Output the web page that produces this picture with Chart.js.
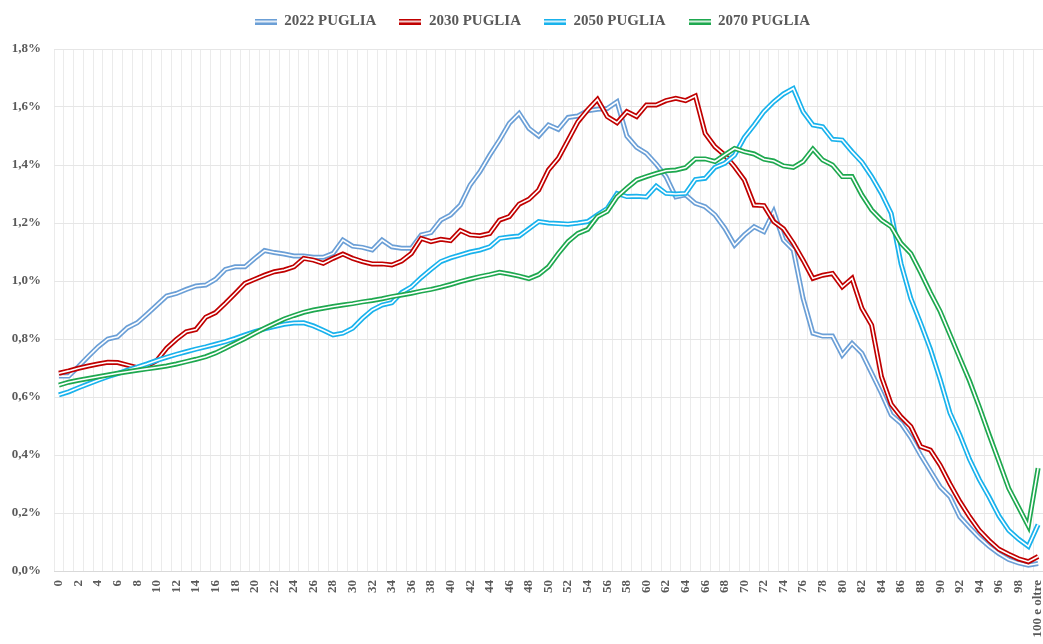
<!DOCTYPE html>
<html><head><meta charset="utf-8">
<script src="https://cdn.jsdelivr.net/npm/chart.js@4/dist/chart.umd.min.js"></script>
<style>html,body{margin:0;padding:0;background:#fff;}#wrap{width:1043px;height:644px;}</style>
</head><body><div id="wrap"><canvas id="c" width="1043" height="644"></canvas></div>
<script>
const categories = ['0','1','2','3','4','5','6','7','8','9','10','11','12','13','14','15','16','17','18','19','20','21','22','23','24','25','26','27','28','29','30','31','32','33','34','35','36','37','38','39','40','41','42','43','44','45','46','47','48','49','50','51','52','53','54','55','56','57','58','59','60','61','62','63','64','65','66','67','68','69','70','71','72','73','74','75','76','77','78','79','80','81','82','83','84','85','86','87','88','89','90','91','92','93','94','95','96','97','98','99','100 e oltre'];
const seriesNames = ['2022 PUGLIA','2030 PUGLIA','2050 PUGLIA','2070 PUGLIA'];
const yTickValues = [0,0.2,0.4,0.6,0.8,1.0,1.2,1.4,1.6,1.8];

const v2022 = [0.672,0.672,0.705,0.74,0.773,0.80,0.808,0.839,0.856,0.886,0.917,0.948,0.957,0.971,0.983,0.986,1.006,1.04,1.049,1.049,1.078,1.105,1.098,1.093,1.086,1.086,1.082,1.082,1.095,1.141,1.12,1.116,1.107,1.141,1.118,1.113,1.113,1.159,1.167,1.21,1.228,1.262,1.331,1.377,1.434,1.486,1.544,1.578,1.526,1.50,1.538,1.523,1.564,1.569,1.587,1.592,1.595,1.618,1.50,1.461,1.44,1.403,1.36,1.29,1.297,1.268,1.256,1.228,1.182,1.124,1.159,1.187,1.17,1.239,1.141,1.107,0.94,0.82,0.81,0.81,0.745,0.785,0.751,0.682,0.613,0.538,0.509,0.46,0.40,0.345,0.29,0.256,0.187,0.15,0.115,0.085,0.06,0.04,0.028,0.02,0.026];
const v2030 = [0.682,0.69,0.699,0.707,0.714,0.72,0.719,0.71,0.701,0.707,0.726,0.768,0.799,0.825,0.833,0.875,0.891,0.923,0.957,0.992,1.006,1.02,1.032,1.038,1.049,1.078,1.072,1.061,1.078,1.093,1.078,1.067,1.059,1.059,1.055,1.069,1.095,1.147,1.136,1.144,1.139,1.174,1.159,1.156,1.164,1.21,1.222,1.265,1.282,1.314,1.383,1.423,1.486,1.549,1.59,1.626,1.567,1.546,1.584,1.567,1.607,1.607,1.622,1.63,1.622,1.638,1.509,1.463,1.434,1.394,1.348,1.262,1.26,1.205,1.18,1.13,1.072,1.009,1.02,1.026,0.98,1.009,0.906,0.848,0.67,0.575,0.532,0.498,0.429,0.417,0.365,0.30,0.24,0.187,0.14,0.105,0.075,0.058,0.042,0.032,0.05];
const v2050 = [0.607,0.618,0.632,0.645,0.658,0.67,0.681,0.693,0.703,0.714,0.726,0.737,0.747,0.756,0.765,0.773,0.782,0.791,0.802,0.814,0.825,0.835,0.843,0.851,0.855,0.856,0.845,0.83,0.814,0.82,0.837,0.871,0.90,0.917,0.925,0.96,0.98,1.012,1.04,1.067,1.08,1.09,1.10,1.107,1.118,1.147,1.152,1.155,1.18,1.205,1.20,1.198,1.196,1.20,1.205,1.228,1.25,1.302,1.291,1.292,1.29,1.327,1.302,1.30,1.302,1.35,1.354,1.392,1.406,1.434,1.495,1.538,1.584,1.618,1.645,1.664,1.584,1.538,1.532,1.489,1.486,1.446,1.41,1.36,1.302,1.233,1.06,0.94,0.855,0.765,0.66,0.545,0.47,0.385,0.315,0.255,0.19,0.14,0.11,0.085,0.16];
const v2070 = [0.641,0.651,0.658,0.664,0.67,0.676,0.682,0.687,0.692,0.697,0.702,0.707,0.714,0.722,0.73,0.739,0.752,0.768,0.785,0.802,0.82,0.837,0.853,0.869,0.881,0.892,0.90,0.906,0.912,0.917,0.922,0.928,0.933,0.939,0.946,0.952,0.958,0.965,0.971,0.979,0.988,0.998,1.007,1.015,1.022,1.03,1.024,1.017,1.008,1.022,1.049,1.095,1.136,1.164,1.178,1.222,1.24,1.29,1.32,1.348,1.36,1.371,1.38,1.383,1.391,1.421,1.421,1.412,1.435,1.457,1.446,1.438,1.42,1.414,1.397,1.392,1.412,1.455,1.417,1.40,1.36,1.36,1.297,1.245,1.21,1.187,1.13,1.095,1.03,0.96,0.895,0.815,0.735,0.655,0.565,0.47,0.378,0.285,0.22,0.155,0.355];

const seriesValues = [v2022, v2030, v2050, v2070];
const colors = ['#6B9FD6', '#C00000', '#19B2EC', '#1EA84F'];
const FONT = '"Liberation Serif", "Times New Roman", serif';
const TXT = '#595959';

function legendMark(color){
  const c = document.createElement('canvas');
  c.width = 22; c.height = 6;
  const g = c.getContext('2d');
  g.fillStyle = color; g.fillRect(0,0,22,6);
  g.fillStyle = '#ffffff'; g.fillRect(0,2.2,22,1.6);
  return c;
}

const datasets = [];
seriesNames.forEach((name, i) => {
  const n = seriesNames.length;
  datasets.push({label: name, data: seriesValues[i], borderColor: colors[i], backgroundColor: colors[i],
    borderWidth: 5, pointRadius: 0, tension: 0, fill: false, order: (n - 1 - i) * 2 + 1, _outer: true});
  datasets.push({label: name + '_inner', data: seriesValues[i], borderColor: '#ffffff',
    borderWidth: 1.6, pointRadius: 0, tension: 0, fill: false, order: (n - 1 - i) * 2, _outer: false});
});

const legendShift = {
  id: 'legendShift',
  afterLayout(chart) {
    const L = chart.legend;
    if (!L) return;
    L.left += 11; L.right += 11; L.top -= 10; L.bottom -= 10;
  }
};

new Chart(document.getElementById('c'), {
  type: 'line',
  data: { labels: categories, datasets },
  plugins: [legendShift],
  options: {
    responsive: false, animation: false, devicePixelRatio: 1,
    layout: { padding: { left: 0, right: 0, top: 1, bottom: 0 } },
    plugins: {
      tooltip: { enabled: false },
      legend: {
        position: 'top', align: 'center',
        labels: {
          usePointStyle: true, pointStyleWidth: 22, boxHeight: 6, padding: 23,
          font: { family: FONT, size: 15, weight: 'bold' }, color: TXT,
          generateLabels: (chart) => chart.data.datasets.map((d, k) => ({d, k})).filter(o => o.d._outer).map(o => ({
            text: o.d.label, datasetIndex: o.k, fillStyle: o.d.borderColor, strokeStyle: o.d.borderColor,
            lineWidth: 0, pointStyle: legendMark(o.d.borderColor), fontColor: TXT, hidden: false
          }))
        }
      }
    },
    scales: {
      x: {
        offset: true,
        grid: { display: true, offset: true, color: '#ebebeb', lineWidth: 1, drawTicks: false },
        border: { display: true, color: '#d9d9d9' },
        ticks: {
          autoSkip: false, maxRotation: 90, minRotation: 90, padding: 9,
          font: { family: FONT, size: 13, weight: 'bold' }, color: TXT,
          callback: (val, idx) => (idx % 2 === 0 ? categories[idx] : '')
        },
        afterFit: (s) => { s.height = 73; s.paddingLeft = 0; s.paddingRight = 0; }
      },
      y: {
        min: 0, max: 1.8,
        afterBuildTicks: (s) => { s.ticks = yTickValues.map(v => ({ value: v })); },
        grid: { color: '#e6e6e6', lineWidth: 1, drawTicks: false },
        border: { display: false },
        ticks: {
          padding: 13, font: { family: FONT, size: 13, weight: 'bold' }, color: TXT,
          callback: (v) => Number(v).toFixed(1).replace('.', ',') + '%'
        },
        afterFit: (s) => { s.width = 54; }
      }
    }
  }
});
</script></body></html>
